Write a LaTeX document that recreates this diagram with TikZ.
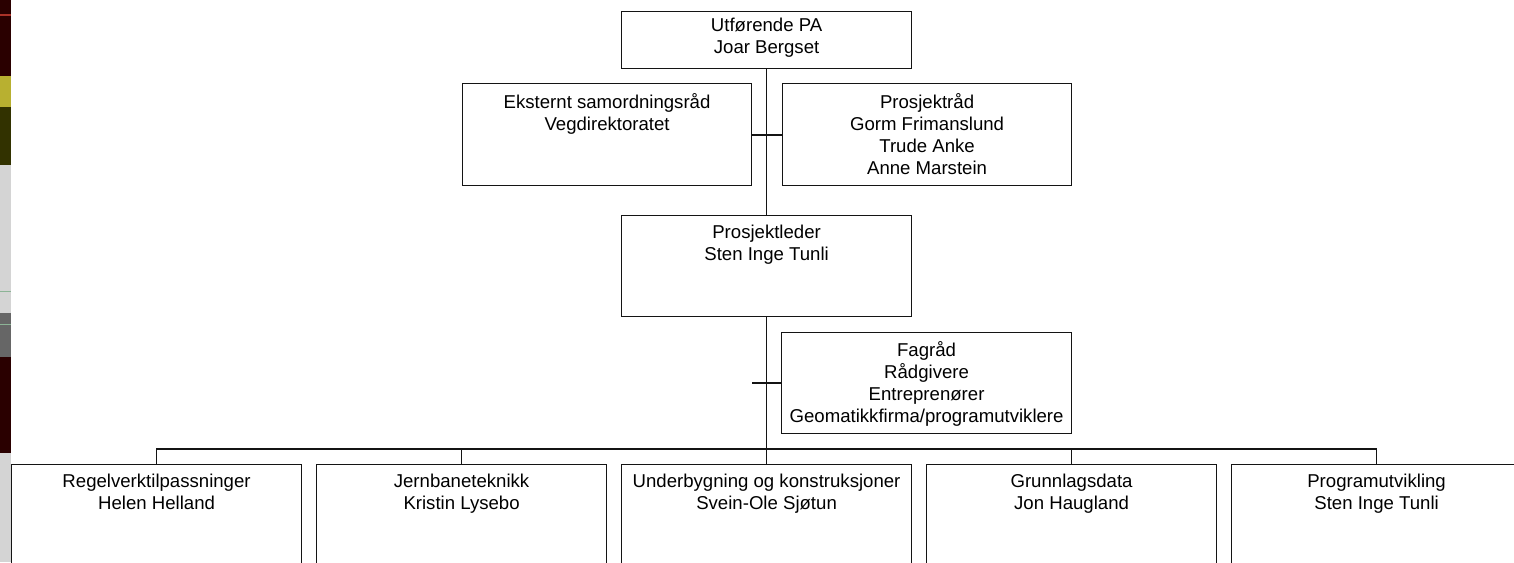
\documentclass[tikz,border=0pt]{standalone}
\usepackage{fontspec}
\setmainfont{Liberation Sans}
\newcommand{\firststrut}{\rule{0pt}{14pt}}
\begin{document}
\begin{tikzpicture}[x=1pt,y=-1pt,
  box/.style={draw=black!92, line width=1.15pt, inner sep=0pt, anchor=north west, fill=white},
  lbl/.style={font=\fontsize{18.6}{22}\selectfont, align=center, anchor=north, inner sep=0pt},
  conn/.style={draw=black!92, line width=1.15pt}]
\useasboundingbox (0,0) rectangle (1514,562);
\clip (0,0) rectangle (1514,562);
% left edge strip
\fill[fill={rgb,255:red,42;green,0;blue,0}] (0,0) rectangle (11,76);
\fill[fill={rgb,255:red,170;green,50;blue,40}] (0,14) rectangle (11,16);
\fill[fill={rgb,255:red,184;green,176;blue,48}] (0,76) rectangle (11,107);
\fill[fill={rgb,255:red,50;green,50;blue,0}] (0,107) rectangle (11,165);
\fill[fill={rgb,255:red,212;green,212;blue,212}] (0,165) rectangle (11,313);
\fill[fill={rgb,255:red,140;green,180;blue,150}] (0,291) rectangle (11,292);
\fill[fill={rgb,255:red,102;green,102;blue,102}] (0,313) rectangle (11,357);
\fill[fill={rgb,255:red,140;green,180;blue,150}] (0,324) rectangle (11,325);
\fill[fill={rgb,255:red,42;green,0;blue,0}] (0,357) rectangle (11,453);
\fill[fill={rgb,255:red,212;green,212;blue,212}] (0,453) rectangle (11,562);

% boxes
\node[box, minimum width=290pt, minimum height=57pt] (top) at (621,11) {};
\node[box, minimum width=289pt, minimum height=102pt] (ext) at (462,83) {};
\node[box, minimum width=289pt, minimum height=102pt] (prr) at (782,83) {};
\node[box, minimum width=290pt, minimum height=101pt] (pl) at (621,215) {};
\node[box, minimum width=290pt, minimum height=101pt] (fag) at (781,332) {};
\node[box, minimum width=290pt, minimum height=130pt] (b1) at (11,464) {};
\node[box, minimum width=290pt, minimum height=130pt] (b2) at (316,464) {};
\node[box, minimum width=290pt, minimum height=130pt] (b3) at (621,464) {};
\node[box, minimum width=290pt, minimum height=130pt] (b4) at (926,464) {};
\node[box, minimum width=290pt, minimum height=130pt] (b5) at (1231,464) {};

% labels
\node[lbl] at ([yshift=-6.5pt]top.north) {\firststrut Utførende PA\\Joar Bergset};
\node[lbl] at ([yshift=-10pt]ext.north) {\firststrut Eksternt samordningsråd\\Vegdirektoratet};
\node[lbl] at ([yshift=-10pt]prr.north) {\firststrut Prosjektråd\\Gorm Frimanslund\\Trude Anke\\Anne Marstein};
\node[lbl] at ([yshift=-9pt]pl.north) {\firststrut Prosjektleder\\Sten Inge Tunli};
\node[lbl] at ([yshift=-9pt]fag.north) {\firststrut Fagråd\\Rådgivere\\Entreprenører\\Geomatikkfirma/programutviklere};
\node[lbl] at ([yshift=-9pt]b1.north) {\firststrut Regelverktilpassninger\\Helen Helland};
\node[lbl] at ([yshift=-9pt]b2.north) {\firststrut Jernbaneteknikk\\Kristin Lysebo};
\node[lbl] at ([yshift=-9pt]b3.north) {\firststrut Underbygning og konstruksjoner\\Svein-Ole Sjøtun};
\node[lbl] at ([yshift=-9pt]b4.north) {\firststrut Grunnlagsdata\\Jon Haugland};
\node[lbl] at ([yshift=-9pt]b5.north) {\firststrut Programutvikling\\Sten Inge Tunli};

% connectors
\coordinate (bus) at (766,449);
\coordinate (fstub) at (752,383);
\draw[conn] (top.south) -- (pl.north);
\draw[conn] (ext.east |- 0,135) -- (prr.west |- 0,135);
\draw[conn] (pl.south) -- (b3.north);
\draw[conn] (fstub) -- (fag.west |- fstub);
\draw[conn] (b1.north) -- (b1.north |- bus) -- (b5.north |- bus) -- (b5.north);
\draw[conn] (b2.north) -- (b2.north |- bus);
\draw[conn] (b4.north) -- (b4.north |- bus);
\end{tikzpicture}
\end{document}
